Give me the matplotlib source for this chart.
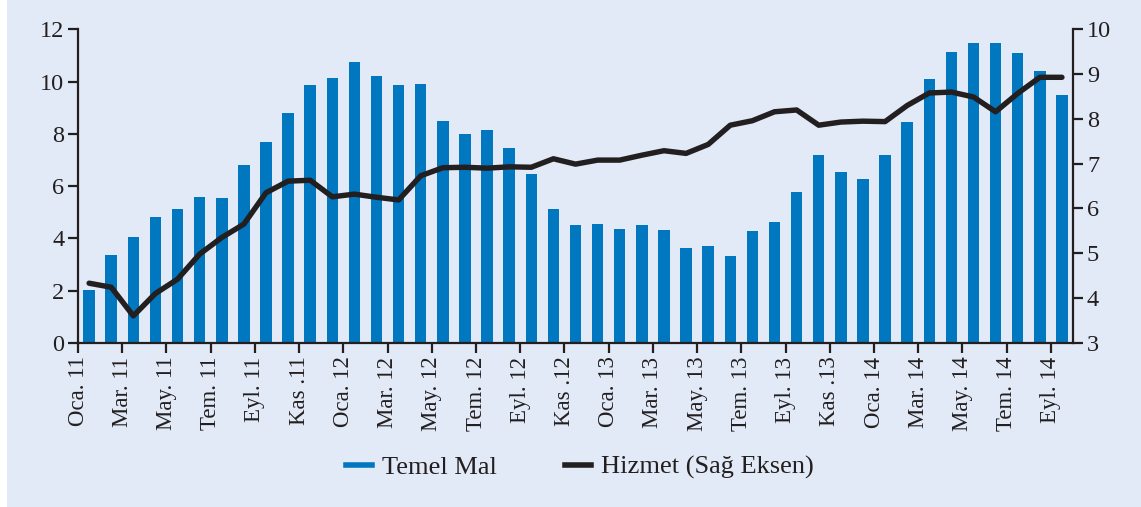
import numpy as np
import matplotlib.pyplot as plt
from matplotlib.patches import Rectangle
from matplotlib.lines import Line2D

# monthly data, Oca.11 - Eyl.14
temel_mal = [2.03, 3.37, 4.06, 4.82, 5.12, 5.60, 5.55, 6.81, 7.67, 8.81, 9.86, 10.14,
             10.75, 10.20, 9.86, 9.90, 8.48, 7.98, 8.15, 7.45, 6.45, 5.14, 4.49, 4.53,
             4.37, 4.50, 4.33, 3.64, 3.71, 3.32, 4.28, 4.64, 5.77, 7.18, 6.52, 6.26,
             7.18, 8.44, 10.09, 11.15, 11.48, 11.48, 11.09, 10.41, 9.48]
hizmet = [4.33, 4.24, 3.60, 4.10, 4.42, 4.98, 5.35, 5.65, 6.35, 6.61, 6.63, 6.26,
          6.32, 6.25, 6.19, 6.73, 6.91, 6.92, 6.90, 6.93, 6.92, 7.11, 6.99, 7.08,
          7.08, 7.19, 7.29, 7.23, 7.43, 7.86, 7.96, 8.16, 8.20, 7.86, 7.93, 7.95,
          7.94, 8.30, 8.58, 8.60, 8.49, 8.16, 8.57, 8.93, 8.93]
tick_labels = ['Oca. 11', 'Mar. 11', 'May. 11', 'Tem. 11', 'Eyl. 11', 'Kas .11',
               'Oca. 12', 'Mar. 12', 'May. 12', 'Tem. 12', 'Eyl. 12', 'Kas .12',
               'Oca. 13', 'Mar. 13', 'May. 13', 'Tem. 13', 'Eyl. 13', 'Kas .13',
               'Oca. 14', 'Mar. 14', 'May. 14', 'Tem. 14', 'Eyl. 14']
series_names = ['Temel Mal', 'Hizmet (Sağ Eksen)']

bg = '#E1EAF6'
bar_color = '#0077BF'
line_color = '#231F20'
txt = '#231F20'

plt.rcParams['font.family'] = ['Liberation Serif', 'DejaVu Serif']

fig = plt.figure(figsize=(11.41, 5.07), dpi=100)
fig.patch.set_facecolor(bg)
fig.patches.append(Rectangle((0, 0), 7 / 1141, 1, transform=fig.transFigure,
                             facecolor='white', edgecolor='none', zorder=-1))

ax = fig.add_axes([0.0684, 0.324, 0.872, 0.618])
ax.set_facecolor(bg)
x = np.arange(len(temel_mal))
ax.bar(x, temel_mal, width=0.52, color=bar_color, zorder=2)
ax.set_xlim(-0.5, len(x) - 0.5)
ax.set_ylim(0, 12)
ax.set_yticks(range(0, 13, 2))
ax.set_xticks(np.arange(0, len(x), 2) - 0.5)
ax.set_xticklabels(tick_labels, rotation=90)

ax2 = ax.twinx()
ax2.plot(x, hizmet, color=line_color, lw=3.9, solid_capstyle='round',
         solid_joinstyle='round', zorder=3)
ax2.set_ylim(3, 10)
ax2.set_yticks(range(3, 11))

for a in (ax, ax2):
    a.spines['top'].set_visible(False)
    for s in ('left', 'right', 'bottom'):
        a.spines[s].set_linewidth(1.6)
        a.spines[s].set_color(txt)
    a.tick_params(axis='both', direction='out', length=7, width=1.6,
                  color=txt, labelcolor=txt, labelsize=17.5, pad=3)
ax.tick_params(axis='x', labelsize=16.5)
ax.spines['right'].set_visible(False)
ax2.spines['left'].set_visible(False)
ax2.spines['bottom'].set_visible(False)

handles = [Line2D([], [], color=bar_color, lw=4), Line2D([], [], color=line_color, lw=4)]
leg = fig.legend(handles, series_names, loc='center', bbox_to_anchor=(0.508, 0.078),
                 ncol=2, frameon=False, fontsize=19, handlelength=1.0,
                 handletextpad=0.35, columnspacing=2.6)
for t in leg.get_texts():
    t.set_color(txt)

fig.savefig('out.png', dpi=100, facecolor=fig.get_facecolor())
